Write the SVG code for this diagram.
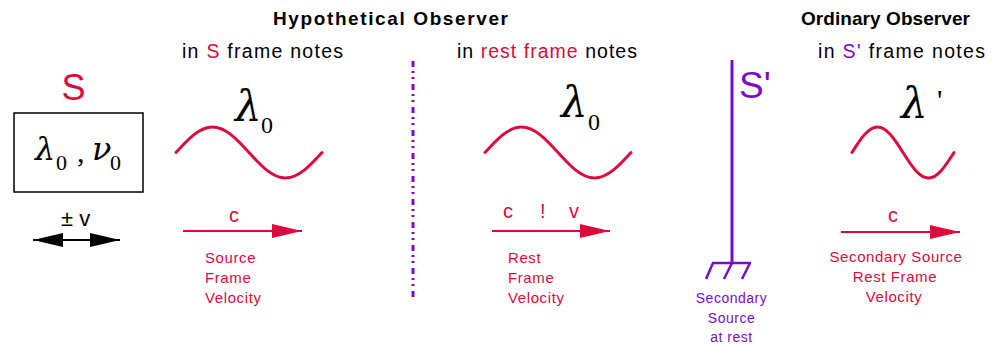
<svg xmlns="http://www.w3.org/2000/svg" width="997" height="344" viewBox="0 0 997 344">
<style>
.h{font-family:"Liberation Sans",Arial,sans-serif;font-weight:bold;font-size:19px;fill:#000}
.sub{font-family:"Liberation Sans",Arial,sans-serif;font-size:19.5px;fill:#000}
.red{fill:#dc0a3c}
.pur{fill:#7d0ac8}
.lbl{font-family:"Liberation Sans",Arial,sans-serif;font-size:15px;fill:#dc0a3c;letter-spacing:0.6px}
.plbl{font-family:"Liberation Sans",Arial,sans-serif;font-size:14px;fill:#7d0ac8;letter-spacing:0.5px}
.c{font-family:"Liberation Sans",Arial,sans-serif;font-size:20px;fill:#dc0a3c}
.gk{font-family:"DejaVu Serif","Liberation Serif",serif;font-style:italic;fill:#000}
.dg{font-family:"Liberation Serif","Times New Roman",serif;fill:#000}
.wave{fill:none;stroke:#dc0a3c;stroke-width:3;stroke-linecap:round}
.arr{stroke:#dc0a3c;stroke-width:2;marker-end:url(#rh)}
</style>
<defs>
<marker id="rh" markerUnits="userSpaceOnUse" markerWidth="30" markerHeight="14" refX="30" refY="7" orient="auto"><path d="M0,0 L30,7 L0,14 z" fill="#dc0a3c"/></marker>
<marker id="bh" markerUnits="userSpaceOnUse" markerWidth="30" markerHeight="14" refX="30" refY="7" orient="auto-start-reverse"><path d="M0,0 L30,7 L0,14 z" fill="#000"/></marker>
</defs>

<g id="headers">
<text class="h" x="273" y="25" textLength="235" lengthAdjust="spacing">Hypothetical Observer</text>
<text class="h" x="801" y="25" textLength="169" lengthAdjust="spacing">Ordinary Observer</text>
<text class="sub" x="182" y="58" textLength="161" lengthAdjust="spacing">in <tspan class="red">S</tspan> frame notes</text>
<text class="sub" x="457" y="58" textLength="180" lengthAdjust="spacing">in <tspan class="red">rest frame</tspan> notes</text>
<text class="sub" x="818" y="58" textLength="167" lengthAdjust="spacing">in <tspan class="pur">S'</tspan> frame notes</text>
</g>

<g id="source-S">
<text x="73.5" y="100" text-anchor="middle" font-family="Liberation Sans, Arial, sans-serif" font-size="36" fill="#dc0a3c">S</text>
<rect x="14" y="113" width="129" height="79" fill="#fff" stroke="#000" stroke-width="1.5"/>
<text class="gk" x="35" y="160" font-size="32">λ</text>
<text class="dg" x="56" y="170" font-size="22">0</text>
<text class="dg" x="77" y="162" font-size="30">,</text>
<text class="gk" x="92" y="160" font-size="32">ν</text>
<text class="dg" x="110" y="170" font-size="22">0</text>
<text x="61" y="226" font-family="Liberation Sans, Arial, sans-serif" font-size="22" fill="#000">± v</text>
<line x1="33" y1="240" x2="120" y2="240" stroke="#000" stroke-width="2" marker-start="url(#bh)" marker-end="url(#bh)"/>
</g>

<g id="source-frame">
<text class="gk" x="235" y="121" font-size="42">λ</text>
<text class="dg" x="261" y="133" font-size="24">0</text>
<path class="wave" d="M176,152.5 C187.9,139.4 199.3,127 212.5,127 C225.7,127 237.1,139.4 249,152.5 C260.9,165.6 272.3,178 285.5,178 C298.7,178 310.1,165.6 322,152.5"/>
<text class="c" x="234" y="222" text-anchor="middle">c</text>
<text class="lbl" x="205" y="263">Source</text>
<text class="lbl" x="205" y="283">Frame</text>
<text class="lbl" x="205" y="303">Velocity</text>
</g>

<g id="rest-frame">
<text class="gk" x="561" y="117" font-size="42">λ</text>
<text class="dg" x="588" y="130" font-size="24">0</text>
<path class="wave" d="M485,152.5 C496.9,139.4 508.3,127 521.5,127 C534.7,127 546.1,139.4 558,152.5 C569.9,165.6 581.3,178 594.5,178 C607.7,178 619.1,165.6 631,152.5"/>
<text class="c" x="503" y="218">c</text>
<text class="c" x="540" y="218">!</text>
<text class="c" x="569" y="218">v</text>
<text class="lbl" x="508" y="263">Rest</text>
<text class="lbl" x="508" y="283">Frame</text>
<text class="lbl" x="508" y="303">Velocity</text>
</g>

<g id="secondary-source">
<line x1="732" y1="60" x2="732" y2="263" stroke="#7d0ac8" stroke-width="3"/>
<path d="M712,263 H751 M713,263 L706,279 M732,263 L724,279 M750,263 L742,279" fill="none" stroke="#7d0ac8" stroke-width="2.5"/>
<text x="739" y="98" font-family="Liberation Sans, Arial, sans-serif" font-size="37" fill="#7d0ac8">S'</text>
<text class="plbl" x="731.5" y="303" text-anchor="middle">Secondary</text>
<text class="plbl" x="731.5" y="322.5" text-anchor="middle">Source</text>
<text class="plbl" x="731.5" y="342" text-anchor="middle">at rest</text>
</g>

<g id="observer-frame">
<text class="gk" x="901" y="118" font-size="42">λ</text>
<text class="dg" x="937" y="110" font-size="30">'</text>
<path class="wave" d="M852,152.5 C860.3,139.4 868.3,127 877.5,127 C886.7,127 894.7,139.4 903,152.5 C911.3,165.6 919.3,178 928.5,178 C937.7,178 945.7,165.6 954,152.5"/>
<text class="c" x="893" y="222" text-anchor="middle">c</text>
<text class="lbl" x="896" y="262" text-anchor="middle">Secondary Source</text>
<text class="lbl" x="895" y="282" text-anchor="middle">Rest Frame</text>
<text class="lbl" x="894" y="302" text-anchor="middle">Velocity</text>
</g>

<g id="connectors">
<line class="arr" x1="183" y1="231" x2="302" y2="231"/>
<line class="arr" x1="492" y1="231" x2="610" y2="231"/>
<line class="arr" x1="841" y1="232" x2="960" y2="232"/>
<line x1="413" y1="61" x2="413" y2="300" stroke="#7d0ac8" stroke-width="3" stroke-dasharray="6,4,2,4,2,5"/>
</g>
</svg>
